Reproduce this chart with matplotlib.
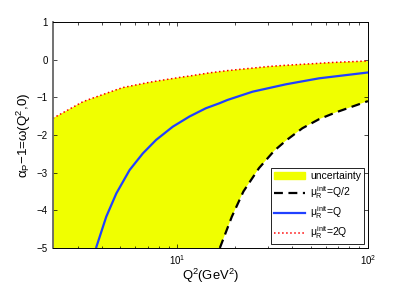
import matplotlib
matplotlib.use("Agg")
import matplotlib.pyplot as plt
import numpy as np
from matplotlib.patches import Patch
from matplotlib.lines import Line2D

# values (Q^2 in GeV^2, log axis)
q2_hi = [2.22, 3.19, 3.46, 4.77, 5.17, 7.13, 7.73, 10.6, 11.56, 14.7, 18.3, 30.3, 35.5, 55.4, 64.6, 100.0]
w_hi = [-1.556, -1.116, -1.05, -0.80, -0.74, -0.60, -0.57, -0.46, -0.434, -0.35, -0.29,
        -0.18, -0.155, -0.096, -0.075, -0.035]

q2_mid = [3.6, 3.75, 4.23, 4.78, 5.61, 6.58, 7.73, 9.45, 11.56, 14.1, 16.6, 18.3,
          24.8, 37.1, 55.4, 100.0]
w_mid = [-5.6, -4.98, -4.17, -3.55, -2.93, -2.49, -2.13, -1.78, -1.51, -1.29, -1.158,
         -1.07, -0.85, -0.654, -0.495, -0.34]

q2_lo = [16.7, 19.3, 22.2, 26.8, 32.2, 37.1, 45.3, 55.4, 67.8, 100.0]
w_lo = [-5.0, -4.17, -3.50, -2.88, -2.42, -2.15, -1.82, -1.58, -1.40, -1.10]

xmin, xmax = 2.22, 100
ymin, ymax = -5, 1

plt.rcParams['font.family'] = ['Liberation Sans', 'DejaVu Sans']
plt.rcParams['mathtext.fontset'] = 'custom'
plt.rcParams['mathtext.rm'] = 'Liberation Sans'
plt.rcParams['mathtext.it'] = 'Liberation Sans'

fig = plt.figure(figsize=(4.07, 2.86), dpi=100)
ax = fig.add_axes([0.130, 0.133, 0.774, 0.790])

# uncertainty band: red curve on top, black dashed (or floor) below
px = q2_hi + q2_lo[::-1] + [xmin]
py = w_hi + w_lo[::-1] + [ymin]
ax.fill(px, py, color='#f0ff00', lw=0)

ax.plot(q2_lo, w_lo, 'k--', lw=1.6, dashes=(4, 2.5))
ax.plot(q2_mid, w_mid, color='#2040ff', lw=1.6)
ax.plot(q2_hi, w_hi, color='red', ls=':', lw=1.1)

ax.set_xscale('log')
ax.set_xlim(xmin, xmax)
ax.set_ylim(ymin, ymax)
ax.set_yticks(np.arange(-5, 2, 1))
ax.tick_params(which='both', direction='in', top=True, right=True, labelsize=7)
ax.tick_params(which='major', length=3, width=0.5)
ax.tick_params(which='minor', length=1.8, width=0.5)
for s in ax.spines.values():
    s.set_linewidth(0.7)
ax.spines['left'].set_color('#666666')
ax.spines['left'].set_linewidth(1.3)

ax.set_xlabel('Q$^2$(GeV$^2$)', fontsize=9.4, labelpad=0)
ax.set_ylabel(r'$\alpha_\mathrm{P}$$-$1=ω(Q$^2$,0)', fontsize=9.6, labelpad=3)

handles = [Patch(color='#f0ff00'),
           Line2D([], [], color='k', ls='--', lw=1.6, dashes=(4, 2.5)),
           Line2D([], [], color='#2040ff', lw=1.6),
           Line2D([], [], color='red', ls=':', lw=1.1)]
labels = ['uncertainty', r'$\mu_\mathrm{R}^\mathrm{init}$=Q/2',
          r'$\mu_\mathrm{R}^\mathrm{init}$=Q', r'$\mu_\mathrm{R}^\mathrm{init}$=2Q']
leg = ax.legend(handles, labels, loc='lower right', fontsize=7.5, frameon=True,
                fancybox=False, edgecolor='k', framealpha=1, borderaxespad=0.35,
                handlelength=3.0, labelspacing=0.3, borderpad=0.3, handletextpad=0.5)
leg.get_frame().set_linewidth(0.6)

fig.savefig('out.png', dpi=100)
